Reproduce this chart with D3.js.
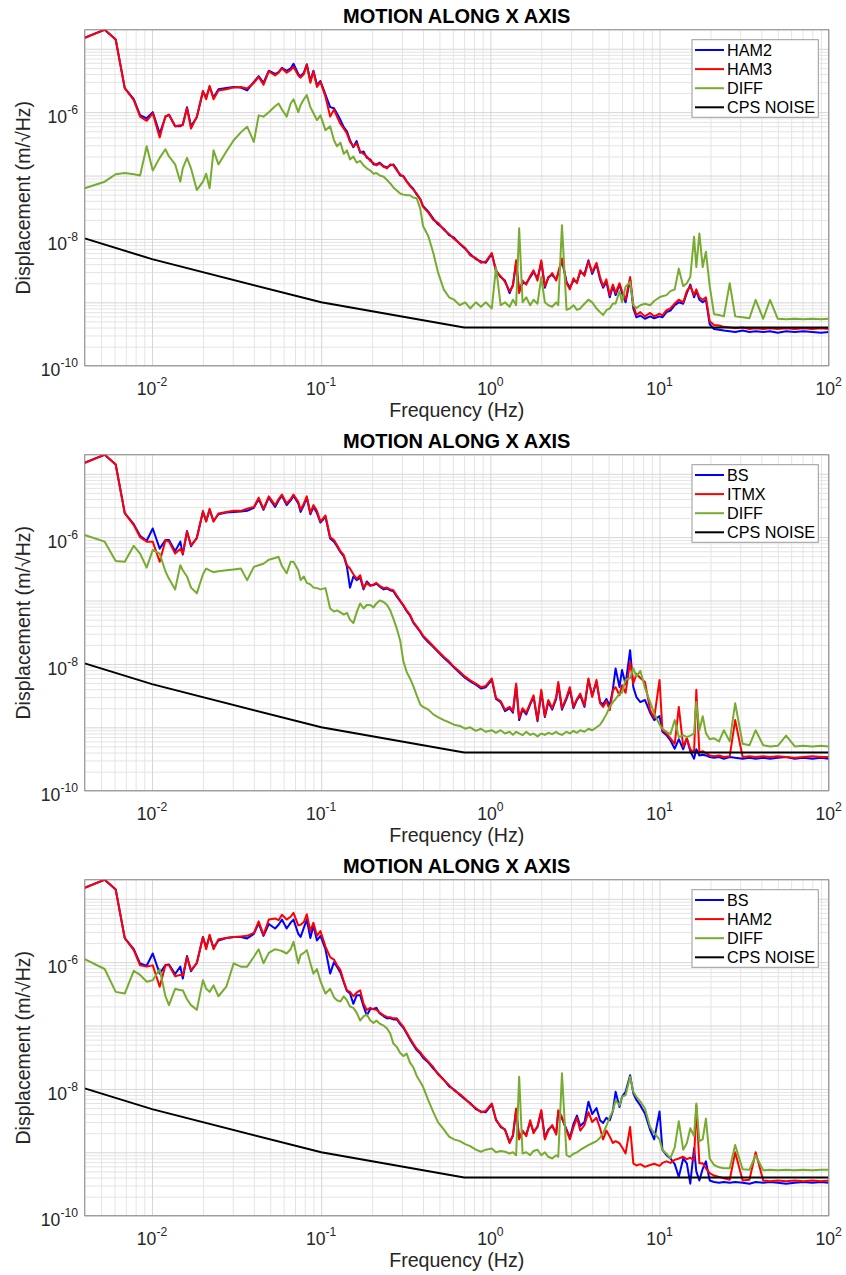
<!DOCTYPE html>
<html><head><meta charset="utf-8">
<script src="https://cdn.jsdelivr.net/npm/d3@7"></script>
<style>body{margin:0;background:#fff}svg{display:block}</style>
</head><body><svg id="c" width="846" height="1275"></svg>
<script>
// ---------- DATA ----------
const freq = [
0.004,0.00525,0.0061,0.0069,0.0078,0.0085,0.0093,0.0101,0.0111,0.012,
0.0126,0.0137,0.0147,0.0152,0.0161,0.017,0.0184,0.02,0.0209,0.0219,
0.0231,0.0247,0.0275,0.0304,0.0335,0.0365,0.04,0.0427,0.0456,0.049,
0.0534,0.056,0.0586,0.0625,0.066,0.0686,0.0732,0.0756,0.079,0.0822,
0.0863,0.09,0.0944,0.099,0.106,0.113,0.119,0.124,0.13,0.136,
0.142,0.148,0.155,0.162,0.17,0.178,0.186,0.195,0.204,0.212,
0.222,0.234,0.245,0.256,0.267,0.28,0.293,0.306,0.32,0.335,
0.35,0.367,0.385,0.4,
0.43,0.46,0.49,0.53,0.57,0.61,0.66,0.71,0.76,0.82,
0.88,0.94,1.02,1.08,1.15,1.22,1.3,1.36,1.42,1.48,
1.55,1.63,1.72,1.8,1.9,2,2.1,2.2,2.32,2.45,
2.52,2.65,2.82,2.95,3.1,3.25,3.4,3.6,3.8,4,
4.24,4.45,4.64,4.85,5.08,5.3,5.5,5.8,6,6.3,
6.7,7,7.3,7.7,8.2,8.8,9.3,10,10.4,11,
11.6,12.3,13,13.8,14.5,15.2,16,16.5,17.2,18,
18.8,19.8,21,22.5,24,26,28,31,34,37,
41,45,50,56,63,71,80,90,100];

// Panel 1: HAM2 / HAM3
const ham2Top = [
1.5e-5,2.0e-5,1.4e-5,2.4e-6,1.6e-6,9.0e-7,8.0e-7,1.0e-6,4.6e-7,8.4e-7,
9.2e-7,6.0e-7,6.0e-7,6.4e-7,1.2e-6,6.0e-7,8.3e-7,2.1e-6,1.7e-6,2.5e-6,
1.7e-6,2.3e-6,2.4e-6,2.5e-6,2.45e-6,2.2e-6,3.0e-6,3.7e-6,2.9e-6,4.5e-6,
4.0e-6,4.3e-6,5.0e-6,4.5e-6,4.9e-6,5.8e-6,4.0e-6,3.7e-6,4.2e-6,5.7e-6,
3.1e-6,4.5e-6,2.7e-6,3.1e-6,1.9e-6,1.2e-6,1.15e-6,9.5e-7,7.5e-7,5.8e-7,
5.0e-7,3.6e-7,2.8e-7,3.5e-7,2.3e-7,2.4e-7,1.9e-7,1.8e-7,1.5e-7,1.5e-7,
1.6e-7,1.4e-7,1.35e-7,1.45e-7,1.5e-7,1.25e-7,1.0e-7,9.8e-8,8.2e-8,7.0e-8,
6.2e-8,5.0e-8,4.3e-8,3.3e-8,
2.7e-8,2.1e-8,1.7e-8,1.45e-8,1.15e-8,1.05e-8,8.3e-9,7.0e-9,5.8e-9,4.8e-9,
4.4e-9,4.2e-9,5.8e-9,3.2e-9,2.5e-9,2.2e-9,1.4e-9,1.9e-9,4.2e-9,1.5e-9,
2.0e-9,2.0e-9,2.5e-9,3.0e-9,2.4e-9,4.3e-9,1.7e-9,2.5e-9,2.7e-9,2.3e-9,
2.8e-9,4.6e-9,2.1e-9,1.7e-9,2.2e-9,2.1e-9,3.0e-9,2.8e-9,4.6e-9,2.8e-9,
4.0e-9,2.3e-9,1.7e-9,2.1e-9,1.2e-9,1.8e-9,1.3e-9,1.9e-9,1.4e-9,1.0e-9,
2.3e-9,8.0e-10,5.8e-10,6.2e-10,5.5e-10,6.0e-10,5.6e-10,6.0e-10,5.8e-10,7.0e-10,
7.4e-10,9.0e-10,1.0e-9,9.5e-10,1.4e-9,1.9e-9,1.2e-9,1.5e-9,1.1e-9,1.0e-9,
1.1e-9,4.5e-10,3.8e-10,3.7e-10,3.6e-10,3.5e-10,3.4e-10,3.6e-10,3.4e-10,3.5e-10,
3.4e-10,3.5e-10,3.3e-10,3.5e-10,3.4e-10,3.5e-10,3.4e-10,3.3e-10,3.4e-10];
const ham3Top = [
1.48e-5,2.0e-5,1.4e-5,2.4e-6,1.55e-6,8.5e-7,7.3e-7,9.6e-7,4.0e-7,8.6e-7,
9.0e-7,6.0e-7,6.2e-7,6.2e-7,1.15e-6,5.5e-7,8.5e-7,2.17e-6,1.6e-6,2.6e-6,
1.6e-6,2.2e-6,2.3e-6,2.46e-6,2.5e-6,2.37e-6,2.9e-6,3.6e-6,2.7e-6,4.4e-6,
3.8e-6,4.2e-6,4.9e-6,4.2e-6,4.6e-6,5.2e-6,3.8e-6,3.5e-6,4.0e-6,5.6e-6,
2.9e-6,4.4e-6,2.5e-6,3.0e-6,1.75e-6,8.5e-7,1.1e-6,8.5e-7,6.5e-7,5.5e-7,
4.6e-7,3.4e-7,2.9e-7,3.2e-7,2.4e-7,2.2e-7,2.0e-7,1.7e-7,1.57e-7,1.45e-7,
1.55e-7,1.37e-7,1.3e-7,1.5e-7,1.45e-7,1.2e-7,1.05e-7,9.6e-8,8.0e-8,6.8e-8,
6.0e-8,5.2e-8,4.2e-8,3.2e-8,
2.6e-8,2.0e-8,1.8e-8,1.4e-8,1.2e-8,1.0e-8,8.5e-9,7.2e-9,5.5e-9,5.0e-9,
4.2e-9,4.4e-9,6.0e-9,3.0e-9,2.6e-9,2.1e-9,1.5e-9,1.8e-9,4.6e-9,1.4e-9,
2.2e-9,1.9e-9,2.6e-9,3.2e-9,2.2e-9,4.6e-9,1.8e-9,2.4e-9,2.9e-9,2.2e-9,
3.0e-9,4.9e-9,2.0e-9,1.6e-9,2.4e-9,2.0e-9,3.2e-9,2.6e-9,4.4e-9,3.0e-9,
4.2e-9,2.5e-9,1.8e-9,2.3e-9,1.3e-9,1.9e-9,1.4e-9,2.0e-9,1.5e-9,1.1e-9,
2.5e-9,9.0e-10,6.3e-10,7.0e-10,6.0e-10,6.8e-10,6.0e-10,6.6e-10,6.2e-10,7.5e-10,
8.0e-10,9.6e-10,1.1e-9,1.0e-9,1.5e-9,1.8e-9,1.3e-9,1.6e-9,1.2e-9,1.1e-9,
1.2e-9,5.0e-10,4.4e-10,4.3e-10,4.1e-10,4.0e-10,3.9e-10,4.0e-10,3.8e-10,3.9e-10,
3.8e-10,3.9e-10,3.8e-10,3.9e-10,3.8e-10,3.9e-10,3.8e-10,3.9e-10,3.8e-10];
const diffTop = [
6.3e-8,8.0e-8,1.05e-7,1.1e-7,1.05e-7,1.0e-7,2.9e-7,1.2e-7,1.9e-7,2.6e-7,
2.0e-7,1.5e-7,8.0e-8,1.3e-7,1.9e-7,1.3e-7,5.9e-8,8.0e-8,1.07e-7,6.3e-8,
2.5e-7,1.5e-7,2.4e-7,3.6e-7,4.8e-7,5.9e-7,3.4e-7,8.9e-7,8.5e-7,1.0e-6,
1.24e-6,1.37e-6,1.1e-6,8.5e-7,1.37e-6,1.6e-6,1.0e-6,1.3e-6,1.6e-6,1.86e-6,
1.2e-6,9.6e-7,7.5e-7,8.9e-7,5.2e-7,6.0e-7,3.6e-7,2.9e-7,3.3e-7,2.2e-7,
2.5e-7,1.8e-7,2.0e-7,1.6e-7,1.7e-7,1.45e-7,1.3e-7,1.2e-7,1.07e-7,1.1e-7,
1.0e-7,9.6e-8,8.5e-8,7.5e-8,6.5e-8,5.8e-8,5.2e-8,5.0e-8,4.9e-8,4.9e-8,
4.5e-8,4.4e-8,3.0e-8,1.6e-8,
1.1e-8,6.0e-9,3.0e-9,1.6e-9,1.2e-9,1.1e-9,9.0e-10,1.0e-9,8.0e-10,1.0e-9,
8.5e-10,1.0e-9,8.0e-10,3.6e-9,9.0e-10,1.0e-9,8.5e-10,1.1e-9,9.0e-10,1.47e-8,
1.0e-9,1.2e-9,9.0e-10,1.1e-9,9.5e-10,2.5e-9,1.0e-9,9.0e-10,8.5e-10,1.0e-9,
9.0e-10,1.65e-8,7.6e-10,8.0e-10,9.0e-10,7.6e-10,8.0e-10,9.5e-10,1.1e-9,1.0e-9,
8.0e-10,7.0e-10,6.3e-10,7.5e-10,8.0e-10,9.6e-10,9.6e-10,1.5e-9,1.0e-9,1.77e-9,
2.1e-9,9.0e-10,8.1e-10,9.0e-10,9.5e-10,9.0e-10,1.05e-9,1.2e-9,1.25e-9,1.3e-9,
1.5e-9,1.6e-9,3.4e-9,1.8e-9,2.0e-9,2.5e-9,1.08e-8,3.6e-9,1.22e-8,3.6e-9,
6.3e-9,1.8e-9,6.5e-10,6.3e-10,6.0e-10,2.0e-9,6.0e-10,5.8e-10,5.6e-10,1.09e-9,
5.5e-10,1.09e-9,5.5e-10,5.4e-10,5.5e-10,5.4e-10,5.5e-10,5.4e-10,5.5e-10];

// Panel 2: BS / ITMX
const bsMid = [
1.5e-5,2.0e-5,1.4e-5,2.4e-6,1.6e-6,1.05e-6,8.8e-7,1.37e-6,6.6e-7,9.0e-7,
9.0e-7,6.0e-7,8.5e-7,5.3e-7,1.25e-6,7.2e-7,9.8e-7,2.5e-6,1.8e-6,2.7e-6,
1.8e-6,2.3e-6,2.45e-6,2.5e-6,2.55e-6,2.6e-6,2.9e-6,4.0e-6,2.7e-6,4.2e-6,
3.0e-6,3.8e-6,4.5e-6,3.2e-6,3.8e-6,4.5e-6,3.4e-6,2.5e-6,3.2e-6,4.2e-6,
2.3e-6,3.0e-6,2.4e-6,1.7e-6,2.1e-6,9.5e-7,8.5e-7,7.2e-7,5.8e-7,5.0e-7,
3.4e-7,1.6e-7,2.4e-7,2.1e-7,2.3e-7,1.5e-7,2.0e-7,1.75e-7,1.75e-7,1.85e-7,
1.65e-7,1.5e-7,1.55e-7,1.45e-7,1.4e-7,1.15e-7,9.8e-8,8.3e-8,6.8e-8,5.8e-8,
4.5e-8,3.8e-8,3.2e-8,2.7e-8,
2.2e-8,1.85e-8,1.55e-8,1.25e-8,1.05e-8,8.8e-9,7.2e-9,6.0e-9,5.3e-9,4.7e-9,
4.1e-9,4.3e-9,5.6e-9,2.8e-9,2.5e-9,1.8e-9,2.0e-9,1.7e-9,4.6e-9,1.3e-9,
1.9e-9,1.6e-9,2.3e-9,3.0e-9,1.25e-9,3.6e-9,1.45e-9,2.5e-9,1.9e-9,2.8e-9,
4.8e-9,1.9e-9,2.8e-9,4.0e-9,2.0e-9,2.7e-9,3.2e-9,2.1e-9,5.6e-9,3.2e-9,
5.2e-9,2.5e-9,2.3e-9,2.8e-9,2.2e-9,4.0e-9,8.5e-9,4.3e-9,8.0e-9,4.8e-9,
1.65e-8,4.3e-9,3.0e-9,2.5e-9,2.7e-9,1.7e-9,1.3e-9,1.5e-9,8.5e-10,7.5e-10,
6.2e-10,4.6e-10,6.5e-10,4.5e-10,6.7e-10,4.2e-10,3.2e-10,4.5e-10,3.6e-10,3.7e-10,
3.6e-10,3.4e-10,3.3e-10,3.4e-10,3.2e-10,3.4e-10,3.3e-10,3.2e-10,3.3e-10,3.2e-10,
3.3e-10,3.2e-10,3.3e-10,3.4e-10,3.2e-10,3.3e-10,3.2e-10,3.3e-10,3.2e-10];
const itmxMid = [
1.48e-5,2.0e-5,1.4e-5,2.4e-6,1.55e-6,1.0e-6,8.5e-7,8.5e-7,4.1e-7,8.9e-7,
8.5e-7,5.5e-7,6.5e-7,5.5e-7,1.22e-6,7.5e-7,9.6e-7,2.6e-6,1.76e-6,2.8e-6,
1.76e-6,2.37e-6,2.5e-6,2.6e-6,2.6e-6,2.8e-6,3.0e-6,4.2e-6,2.8e-6,4.4e-6,
3.2e-6,4.0e-6,4.7e-6,3.4e-6,4.0e-6,4.7e-6,3.6e-6,2.7e-6,3.4e-6,4.4e-6,
2.4e-6,3.2e-6,2.6e-6,1.76e-6,2.2e-6,1.0e-6,9.0e-7,7.5e-7,6.0e-7,5.2e-7,
3.6e-7,3.2e-7,2.6e-7,2.2e-7,2.5e-7,1.57e-7,1.9e-7,1.7e-7,1.8e-7,1.9e-7,
1.7e-7,1.57e-7,1.6e-7,1.5e-7,1.45e-7,1.2e-7,1.0e-7,8.5e-8,7.0e-8,6.0e-8,
4.6e-8,3.9e-8,3.3e-8,2.8e-8,
2.3e-8,1.9e-8,1.6e-8,1.3e-8,1.1e-8,9.0e-9,7.5e-9,6.3e-9,5.5e-9,4.9e-9,
4.3e-9,4.5e-9,5.9e-9,2.9e-9,2.6e-9,1.9e-9,2.1e-9,1.8e-9,4.9e-9,1.4e-9,
2.0e-9,1.7e-9,2.4e-9,3.2e-9,1.3e-9,3.9e-9,1.5e-9,2.7e-9,2.0e-9,3.0e-9,
5.2e-9,2.0e-9,3.0e-9,4.3e-9,2.1e-9,2.8e-9,3.4e-9,2.2e-9,5.9e-9,3.0e-9,
5.6e-9,2.4e-9,2.1e-9,2.6e-9,1.87e-9,3.8e-9,4.3e-9,3.2e-9,4.6e-9,3.5e-9,
1.08e-8,4.9e-9,7.0e-9,6.0e-9,5.2e-9,1.87e-9,1.4e-9,5.6e-9,9.0e-10,8.0e-10,
6.7e-10,5.5e-10,2.1e-9,5.0e-10,6.7e-10,4.5e-10,4.0e-10,3.9e-9,4.0e-10,4.2e-10,
3.9e-10,3.6e-10,3.5e-10,3.6e-10,3.4e-10,3.5e-10,1.3e-9,3.4e-10,3.5e-10,3.4e-10,
3.5e-10,3.4e-10,3.5e-10,3.4e-10,3.3e-10,3.4e-10,3.5e-10,3.4e-10,3.4e-10];
const diffMid = [
1.08e-6,8.5e-7,4.2e-7,4.1e-7,7.3e-7,5.5e-7,3.3e-7,6.3e-7,5.5e-7,2.9e-7,
2.2e-7,1.5e-7,3.6e-7,3.0e-7,2.4e-7,1.6e-7,1.3e-7,2.6e-7,3.2e-7,3.0e-7,
2.8e-7,2.9e-7,3.0e-7,3.1e-7,3.2e-7,2.1e-7,3.4e-7,3.6e-7,3.8e-7,4.4e-7,
4.7e-7,4.9e-7,3.5e-7,2.7e-7,4.1e-7,4.1e-7,3.0e-7,2.1e-7,2.4e-7,1.9e-7,
1.8e-7,1.6e-7,1.57e-7,1.5e-7,1.57e-7,7.5e-8,6.7e-8,7.0e-8,6.5e-8,6.0e-8,
6.4e-8,5.0e-8,4.4e-8,6.5e-8,9.0e-8,7.5e-8,8.5e-8,8.5e-8,7.8e-8,9.0e-8,
1.0e-7,9.5e-8,8.5e-8,7.0e-8,5.2e-8,3.6e-8,2.35e-8,1.1e-8,7.5e-9,5.9e-9,
4.5e-9,3.2e-9,2.3e-9,2.1e-9,
1.9e-9,1.6e-9,1.45e-9,1.3e-9,1.2e-9,1.1e-9,1.05e-9,9.5e-10,1.0e-9,8.8e-10,
9.5e-10,8.5e-10,9.0e-10,8.2e-10,9.0e-10,8.0e-10,8.5e-10,7.6e-10,8.5e-10,8.0e-10,
7.5e-10,8.5e-10,7.6e-10,8.0e-10,7.2e-10,8.0e-10,7.6e-10,8.2e-10,7.8e-10,8.5e-10,
8.0e-10,7.6e-10,8.5e-10,8.0e-10,8.8e-10,8.2e-10,9.0e-10,8.5e-10,9.5e-10,9.0e-10,
1.0e-9,1.1e-9,1.3e-9,1.6e-9,2.1e-9,2.5e-9,2.8e-9,3.4e-9,3.5e-9,5.6e-9,
6.0e-9,8.5e-9,6.3e-9,7.8e-9,4.2e-9,2.5e-9,1.66e-9,1.1e-9,9.5e-10,8.5e-10,
7.8e-10,1.3e-9,7.0e-10,7.5e-10,7.0e-10,7.4e-10,8.0e-10,2.5e-9,9.0e-10,1.5e-9,
8.1e-10,6.5e-10,6.7e-10,6.0e-10,9.0e-10,6.0e-10,2.4e-9,5.5e-10,5.2e-10,9.0e-10,
5.2e-10,5.0e-10,5.1e-10,7.4e-10,5.0e-10,5.1e-10,5.0e-10,5.1e-10,5.0e-10];

// Panel 3: BS / HAM2
const bsBot = [
1.5e-5,2.0e-5,1.4e-5,2.4e-6,1.6e-6,9.5e-7,8.8e-7,1.37e-6,6.6e-7,9.0e-7,
9.2e-7,6.5e-7,8.5e-7,5.5e-7,1.25e-6,7.2e-7,9.8e-7,2.5e-6,1.7e-6,2.6e-6,
1.7e-6,2.2e-6,2.4e-6,2.5e-6,2.5e-6,2.37e-6,2.8e-6,4.1e-6,2.6e-6,4.0e-6,
3.4e-6,3.9e-6,4.7e-6,3.4e-6,4.2e-6,4.7e-6,2.8e-6,2.5e-6,3.5e-6,4.7e-6,
2.4e-6,3.8e-6,2.2e-6,2.6e-6,1.6e-6,6.6e-7,1.0e-6,8.5e-7,6.8e-7,4.8e-7,
3.5e-7,3.2e-7,2.2e-7,3.0e-7,3.0e-7,2.0e-7,1.45e-7,1.8e-7,1.85e-7,1.9e-7,
1.55e-7,1.4e-7,1.3e-7,1.3e-7,1.25e-7,1.25e-7,1.05e-7,9.2e-8,7.5e-8,6.0e-8,
5.0e-8,4.1e-8,3.6e-8,3.1e-8,
2.6e-8,2.1e-8,1.75e-8,1.4e-8,1.1e-8,9.8e-9,8.0e-9,6.8e-9,6.0e-9,4.8e-9,
4.4e-9,4.3e-9,5.7e-9,3.3e-9,2.5e-9,2.3e-9,1.45e-9,1.8e-9,4.6e-9,1.7e-9,
2.1e-9,1.9e-9,3.0e-9,2.1e-9,2.5e-9,4.4e-9,1.7e-9,2.3e-9,2.6e-9,2.0e-9,
4.4e-9,3.4e-9,2.3e-9,1.7e-9,2.8e-9,3.8e-9,2.6e-9,3.0e-9,6.3e-9,4.0e-9,
5.0e-9,3.2e-9,2.9e-9,3.5e-9,3.2e-9,4.5e-9,9.0e-9,5.2e-9,7.5e-9,9.0e-9,
1.65e-8,8.5e-9,6.7e-9,5.5e-9,4.1e-9,2.25e-9,1.6e-9,4.4e-9,1.09e-9,9.0e-10,
8.0e-10,6.5e-10,4.1e-10,8.0e-10,6.7e-10,3.2e-10,1.16e-9,5.0e-10,3.6e-10,5.5e-10,
7.2e-10,3.6e-10,3.4e-10,3.3e-10,3.4e-10,3.3e-10,3.4e-10,3.3e-10,3.2e-10,3.4e-10,
3.3e-10,3.4e-10,3.3e-10,3.2e-10,3.3e-10,3.4e-10,3.3e-10,3.4e-10,3.3e-10];
const ham2Bot = [
1.48e-5,2.0e-5,1.4e-5,2.4e-6,1.55e-6,8.9e-7,8.5e-7,8.9e-7,4.1e-7,8.9e-7,
8.9e-7,6.0e-7,6.3e-7,6.2e-7,1.2e-6,7.5e-7,9.6e-7,2.5e-6,1.6e-6,2.7e-6,
1.6e-6,2.3e-6,2.4e-6,2.5e-6,2.55e-6,2.6e-6,2.9e-6,4.4e-6,2.7e-6,4.7e-6,
4.9e-6,4.6e-6,5.6e-6,4.7e-6,5.2e-6,6.0e-6,3.8e-6,3.9e-6,4.3e-6,5.7e-6,
3.1e-6,4.2e-6,2.6e-6,3.1e-6,1.76e-6,1.2e-6,1.1e-6,9.0e-7,7.5e-7,5.0e-7,
3.6e-7,3.4e-7,2.9e-7,3.3e-7,3.6e-7,2.2e-7,1.77e-7,1.9e-7,1.8e-7,1.77e-7,
1.6e-7,1.45e-7,1.37e-7,1.35e-7,1.3e-7,1.3e-7,1.1e-7,9.6e-8,7.8e-8,6.3e-8,
5.2e-8,4.3e-8,3.8e-8,3.3e-8,
2.7e-8,2.2e-8,1.7e-8,1.38e-8,1.15e-8,9.5e-9,8.3e-9,7.0e-9,5.8e-9,5.0e-9,
4.3e-9,4.5e-9,5.9e-9,3.2e-9,2.6e-9,2.25e-9,1.4e-9,1.9e-9,4.9e-9,1.6e-9,
2.2e-9,1.8e-9,3.2e-9,2.0e-9,2.6e-9,4.65e-9,1.6e-9,2.2e-9,2.7e-9,1.9e-9,
4.6e-9,3.6e-9,2.2e-9,1.6e-9,2.5e-9,3.5e-9,2.2e-9,2.7e-9,4.3e-9,3.0e-9,
3.5e-9,2.4e-9,1.6e-9,2.2e-9,1.77e-9,1.4e-9,1.5e-9,1.39e-9,1.2e-9,9.6e-10,
2.5e-9,6.7e-10,6.2e-10,6.5e-10,5.9e-10,6.3e-10,6.6e-10,6.1e-10,6.8e-10,7.2e-10,
6.8e-10,7.6e-10,8.0e-10,8.5e-10,7.8e-10,8.2e-10,7.5e-10,5.5e-9,6.7e-10,6.7e-10,
5.6e-10,4.7e-10,4.3e-10,4.1e-10,3.9e-10,3.7e-10,1.0e-9,3.6e-10,3.7e-10,1.0e-9,
3.6e-10,3.5e-10,3.6e-10,3.5e-10,3.6e-10,3.5e-10,3.6e-10,3.5e-10,3.6e-10];
const diffBot = [
1.12e-6,7.8e-7,3.4e-7,3.2e-7,7.3e-7,6.3e-7,4.9e-7,5.2e-7,7.8e-7,2.9e-7,
2.1e-7,3.8e-7,3.6e-7,3.6e-7,2.6e-7,2.1e-7,1.77e-7,5.2e-7,3.8e-7,3.4e-7,
4.3e-7,2.9e-7,4.1e-7,9.6e-7,8.5e-7,8.5e-7,1.22e-6,1.6e-6,9.6e-7,1.4e-6,
1.6e-6,1.55e-6,1.5e-6,1.37e-6,1.6e-6,2.1e-6,9.6e-7,1.3e-6,1.4e-6,1.55e-6,
9.6e-7,6.6e-7,7.8e-7,5.0e-7,3.2e-7,3.8e-7,2.8e-7,2.5e-7,2.4e-7,2.9e-7,
2.5e-7,2.0e-7,1.9e-7,1.6e-7,1.2e-7,1.4e-7,1.5e-7,1.2e-7,1.1e-7,1.2e-7,
1.07e-7,1.0e-7,9.0e-8,7.5e-8,5.2e-8,4.6e-8,3.7e-8,3.3e-8,3.6e-8,2.6e-8,
2.2e-8,1.6e-8,1.3e-8,1.08e-8,
6.6e-9,4.3e-9,3.0e-9,2.3e-9,1.77e-9,1.6e-9,1.5e-9,1.35e-9,1.25e-9,1.1e-9,
1.02e-9,1.1e-9,1.15e-9,1.0e-9,1.05e-9,1.02e-9,9.6e-10,1.0e-9,9.0e-10,1.56e-8,
9.6e-10,1.0e-9,9.0e-10,1.05e-9,1.1e-9,9.0e-10,1.0e-9,8.5e-10,8.0e-10,9.0e-10,
8.5e-10,1.77e-8,9.0e-10,8.5e-10,9.5e-10,1.0e-9,1.09e-9,1.2e-9,1.3e-9,1.39e-9,
1.5e-9,1.7e-9,2.0e-9,2.6e-9,3.6e-9,4.5e-9,6.6e-9,5.5e-9,7.5e-9,8.0e-9,
1.56e-8,9.0e-9,7.5e-9,6.3e-9,4.9e-9,2.5e-9,2.0e-9,1.6e-9,1.09e-9,9.5e-10,
8.1e-10,1.2e-9,3.1e-9,1.1e-9,1.39e-9,2.4e-9,1.8e-9,5.9e-9,1.5e-9,1.6e-9,
3.4e-9,8.0e-10,6.3e-10,5.8e-10,5.6e-10,5.6e-10,1.3e-9,5.4e-10,5.3e-10,9.0e-10,
5.2e-10,5.3e-10,5.2e-10,5.3e-10,5.2e-10,5.3e-10,5.2e-10,5.3e-10,5.3e-10];

// CPS noise floor (same in every panel)
const cpsFreq  = [0.004, 0.01, 0.1, 0.7, 100];
const cpsNoise = [1.02e-8, 4.8e-9, 1.0e-9, 4.0e-10, 4.0e-10];

const titles = ["MOTION ALONG X AXIS","MOTION ALONG X AXIS","MOTION ALONG X AXIS"];
const legendTop = ["HAM2","HAM3","DIFF","CPS NOISE"];
const legendMid = ["BS","ITMX","DIFF","CPS NOISE"];
const legendBot = ["BS","HAM2","DIFF","CPS NOISE"];
const xTickExp = [-2,-1,0,1,2];
const yTickExp = [-10,-8,-6];
const colors = ["#0000ff","#ff0000","#77ac30","#000000"];

// ---------- DRAW ----------
const W = 846, H = 1275;
const FONT = "'Liberation Sans', Arial, Helvetica, sans-serif";
const svg = d3.select("#c");
svg.append("rect").attr("width", W).attr("height", H).attr("fill", "#fff");

const left = 84.7, right = 828.7, ph = 336;
const tops = [29.7, 454.7, 879.7];
const x = d3.scaleLog().domain([0.004, 100]).range([left, right]);

const panels = [
  {series:[ham2Top, ham3Top, diffTop], legend: legendTop},
  {series:[bsMid, itmxMid, diffMid], legend: legendMid},
  {series:[bsBot, ham2Bot, diffBot], legend: legendBot}
];

const xMinor = [], xMajor = [];
for (let e = -3; e <= 2; e++) for (let k = 1; k <= 9; k++) {
  const v = k * Math.pow(10, e);
  if (v < 0.004 - 1e-12 || v > 100 + 1e-9) continue;
  if (k === 1) xMajor.push(v); else xMinor.push(v);
}
const yMinor = [], yMajor = [];
for (let e = -10; e <= -5; e++) for (let k = 1; k <= 9; k++) {
  const v = k * Math.pow(10, e);
  if (v > 2e-5 * 1.0001) continue;
  if (k === 1) yMajor.push(v); else yMinor.push(v);
}

panels.forEach((p, i) => {
  const top = tops[i], bottom = top + ph;
  const y = d3.scaleLog().domain([1e-10, 2e-5]).range([bottom, top]);
  const g = svg.append("g");

  const gridStyle = (sel, col) => {
    sel.select(".domain").remove();
    sel.selectAll("line").attr("stroke", col).attr("stroke-width", 1);
  };
  g.append("g").attr("transform", `translate(0,${bottom})`)
    .call(d3.axisBottom(x).tickValues(xMinor).tickSize(-ph).tickFormat(""))
    .call(s => gridStyle(s, "#e4e4e4"));
  g.append("g").attr("transform", `translate(${left},0)`)
    .call(d3.axisLeft(y).tickValues(yMinor).tickSize(-(right-left)).tickFormat(""))
    .call(s => gridStyle(s, "#e4e4e4"));
  g.append("g").attr("transform", `translate(0,${bottom})`)
    .call(d3.axisBottom(x).tickValues(xMajor).tickSize(-ph).tickFormat(""))
    .call(s => gridStyle(s, "#d6d6d6"));
  g.append("g").attr("transform", `translate(${left},0)`)
    .call(d3.axisLeft(y).tickValues(yMajor).tickSize(-(right-left)).tickFormat(""))
    .call(s => gridStyle(s, "#d6d6d6"));

  const cid = "clip" + i;
  svg.append("clipPath").attr("id", cid).append("rect")
    .attr("x", left).attr("y", top).attr("width", right-left).attr("height", ph);

  const line = d3.line().x(d => x(d[0])).y(d => y(d[1]));
  const lg = g.append("g").attr("clip-path", `url(#${cid})`);
  p.series.forEach((vals, si) => {
    lg.append("path").datum(d3.zip(freq, vals))
      .attr("d", line).attr("fill", "none")
      .attr("stroke", colors[si]).attr("stroke-width", 2)
      .attr("stroke-linejoin", "round");
  });
  lg.append("path").datum(d3.zip(cpsFreq, cpsNoise))
    .attr("d", line).attr("fill", "none")
    .attr("stroke", colors[3]).attr("stroke-width", 2);

  g.append("rect").attr("x", left).attr("y", top).attr("width", right-left).attr("height", ph)
    .attr("fill", "none").attr("stroke", "#8a8a8a").attr("stroke-width", 1);

  xTickExp.forEach(e => {
    const t = g.append("text").attr("x", x(Math.pow(10, e))).attr("y", bottom + 28.8)
      .attr("text-anchor", "middle").attr("font-family", FONT).attr("font-size", 17.6)
      .attr("fill", "#262626");
    t.append("tspan").text("10");
    t.append("tspan").attr("dy", -9).attr("font-size", 12.2).text(String(e));
  });
  yTickExp.forEach(e => {
    const t = g.append("text").attr("x", 78).attr("y", y(Math.pow(10, e)) + 10.6)
      .attr("text-anchor", "end").attr("font-family", FONT).attr("font-size", 17.6)
      .attr("fill", "#262626");
    t.append("tspan").text("10");
    t.append("tspan").attr("dy", -9).attr("font-size", 12.2).text(String(e));
  });

  g.append("text").attr("x", (left+right)/2).attr("y", top - 7)
    .attr("text-anchor", "middle").attr("font-family", FONT).attr("font-weight", "bold")
    .attr("font-size", 20).attr("fill", "#000").text(titles[i]);
  g.append("text").attr("x", (left+right)/2).attr("y", bottom + 51.6)
    .attr("text-anchor", "middle").attr("font-family", FONT)
    .attr("font-size", 19.6).attr("fill", "#262626").text("Frequency (Hz)");
  g.append("text").attr("transform", `translate(29.5,${(top+bottom)/2}) rotate(-90)`)
    .attr("text-anchor", "middle").attr("font-family", FONT)
    .attr("font-size", 19.6).attr("fill", "#262626").text("Displacement (m/\u221AHz)");

  const lgx = 692, lgy = top + 10;
  const leg = g.append("g");
  leg.append("rect").attr("x", lgx).attr("y", lgy).attr("width", 126.3).attr("height", 77.6)
    .attr("fill", "#fff").attr("stroke", "#9a9a9a").attr("stroke-width", 1);
  p.legend.forEach((name, k) => {
    const ly = lgy + 10.3 + k * 19.1;
    leg.append("line").attr("x1", lgx + 3).attr("x2", lgx + 32).attr("y1", ly).attr("y2", ly)
      .attr("stroke", colors[k]).attr("stroke-width", 2);
    leg.append("text").attr("x", lgx + 35).attr("y", ly + 6)
      .attr("font-family", FONT).attr("font-size", 16.2).attr("fill", "#000").text(name);
  });
});
</script></body></html>
